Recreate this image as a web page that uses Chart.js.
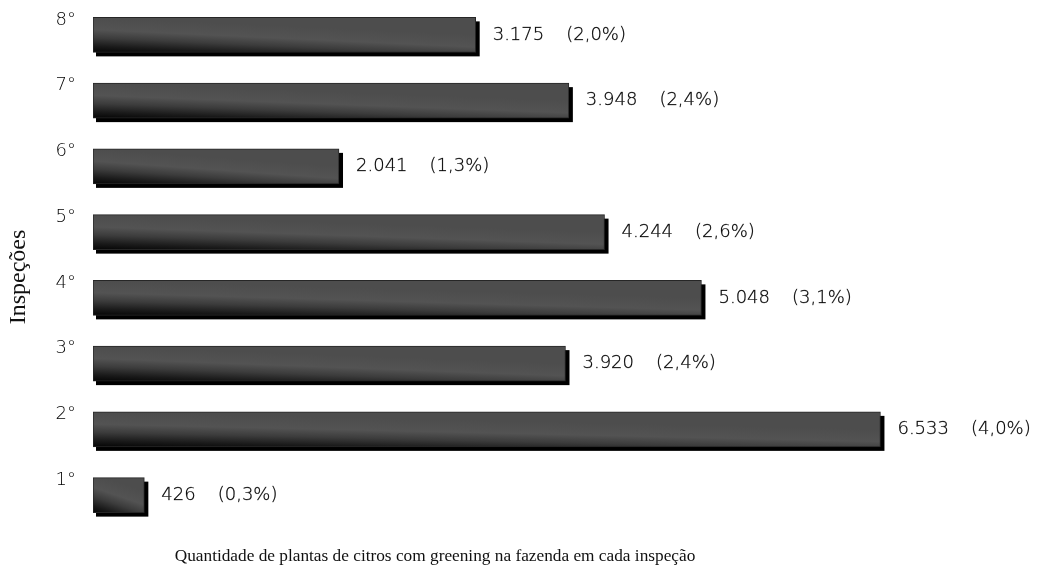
<!DOCTYPE html>
<html>
<head>
<meta charset="utf-8">
<script src="https://cdn.jsdelivr.net/npm/chart.js@4"></script>
<style>
  html, body { margin: 0; padding: 0; background: #fff; }
  #wrap { width: 1039px; height: 574px; position: relative; }
</style>
</head>
<body>
<div id="wrap"><canvas id="greening-chart"></canvas></div>
<script>
// dados (1a a 8a inspecao)
const inspecoes = ['1°', '2°', '3°', '4°', '5°', '6°', '7°', '8°'];
const plantas = [426, 6533, 3920, 5048, 4244, 2041, 3948, 3175];
const percentuais = ['(0,3%)', '(4,0%)', '(2,4%)', '(3,1%)', '(2,6%)', '(1,3%)', '(2,4%)', '(2,0%)'];

const tituloY = 'Inspeções';
const tituloX = 'Quantidade de plantas de citros com greening na fazenda em cada inspeção';

const BAR_H = 35;
const LABEL_FONT = '200 18px "DejaVu Sans"';

// formata 3175 -> 3.175
function fmt(n) {
  return n.toString().replace(/\B(?=(\d{3})+(?!\d))/g, '.');
}

// gradiente de cada barra: escuro no canto de baixo/esquerda, cinza no resto
function barFill(context) {
  const chart = context.chart;
  if (!chart.chartArea) return '#555';
  const ys = chart.scales.y;
  const xs = chart.scales.x;
  const cy = ys.getPixelForValue(context.dataIndex);
  const top = cy - BAR_H / 2, bottom = cy + BAR_H / 2;
  const x0 = xs.getPixelForValue(0);
  const w = Math.max(xs.getPixelForValue(context.raw) - x0, 1);
  const a = (BAR_H * BAR_H) / (2 * w);
  const g = chart.ctx.createLinearGradient(x0, bottom, x0 + a, top);
  g.addColorStop(0, '#050505');
  g.addColorStop(0.18, '#1a1a1a');
  g.addColorStop(0.42, '#3c3c3c');
  g.addColorStop(0.65, '#535353');
  g.addColorStop(1, '#4d4d4d');
  return g;
}

// sombra preta deslocada atras das barras + rotulos + titulos
const shadowPlugin = {
  id: 'shadow',
  beforeDatasetsDraw(chart) {
    const ctx = chart.ctx;
    const meta = chart.getDatasetMeta(0);
    ctx.save();
    ctx.fillStyle = '#000';
    meta.data.forEach(bar => {
      const h = bar.height;
      ctx.fillRect(bar.base + 3, bar.y - h / 2 + 4, bar.x - bar.base + 1, h);
    });
    ctx.restore();
  },
  afterDatasetsDraw(chart) {
    const ctx = chart.ctx;
    const meta = chart.getDatasetMeta(0);
    ctx.save();
    ctx.font = LABEL_FONT;
    ctx.fillStyle = '#000';
    ctx.strokeStyle = 'rgba(0,0,0,0.6)';
    ctx.lineWidth = 0.4;
    ctx.textBaseline = 'middle';
    ctx.textAlign = 'left';
    meta.data.forEach((bar, i) => {
      const vx = bar.x + 17;
      const txt = fmt(plantas[i]);
      const px = vx + ctx.measureText(txt).width + 22;
      ctx.fillText(txt, vx, bar.y);
      ctx.strokeText(txt, vx, bar.y);
      ctx.fillText(percentuais[i], px, bar.y);
      ctx.strokeText(percentuais[i], px, bar.y);
    });
    ctx.restore();
  },
  afterDraw(chart) {
    const ctx = chart.ctx;
    const a = chart.chartArea;
    ctx.save();
    ctx.fillStyle = '#111';
    ctx.textAlign = 'center';
    ctx.textBaseline = 'middle';
    ctx.font = '17.3px "Liberation Serif"';
    ctx.fillText(tituloX, a.left + 342, 556);
    ctx.translate(19, (a.top + a.bottom) / 2 + 12);
    ctx.rotate(-Math.PI / 2);
    ctx.font = '24px "Liberation Serif"';
    ctx.fillText(tituloY, 0, 0);
    ctx.restore();
  }
};

new Chart(document.getElementById('greening-chart'), {
  type: 'bar',
  data: {
    labels: inspecoes,
    datasets: [{
      data: plantas,
      backgroundColor: barFill,
      borderColor: '#262626',
      borderWidth: 1,
      borderSkipped: false,
      barThickness: BAR_H
    }]
  },
  options: {
    indexAxis: 'y',
    responsive: true,
    maintainAspectRatio: false,
    animation: false,
    layout: { padding: { top: 2, right: 42, bottom: 46, left: 0 } },
    plugins: {
      legend: { display: false },
      tooltip: { enabled: false }
    },
    scales: {
      x: {
        display: false,
        min: 0,
        max: 7500
      },
      y: {
        reverse: true,
        grid: { display: false, drawTicks: false },
        border: { display: false },
        afterFit(scale) {
          scale.width = 93;
          scale.paddingTop = 0;
          scale.paddingBottom = 0;
        },
        ticks: {
          color: '#000',
          font: { family: 'DejaVu Sans', size: 18, weight: 200 },
          padding: 17,
          labelOffset: -15
        }
      }
    }
  },
  plugins: [shadowPlugin]
});
</script>
</body>
</html>
